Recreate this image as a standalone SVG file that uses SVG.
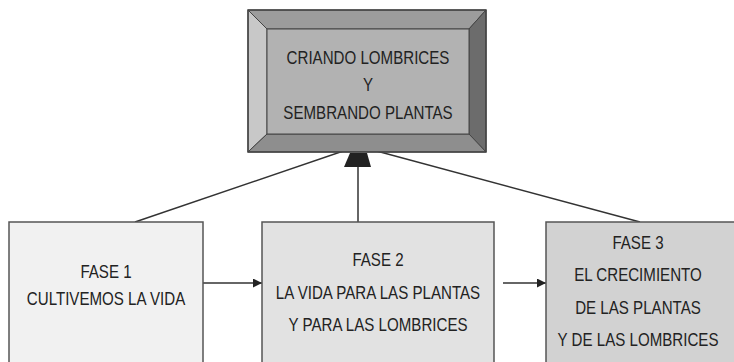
<svg xmlns="http://www.w3.org/2000/svg" width="734" height="362" viewBox="0 0 734 362">
<style>
.t{font-family:"Liberation Sans",Arial,sans-serif;font-size:18px;fill:#222;text-anchor:middle}
.box{stroke:#555;stroke-width:1.5}
.ln{stroke:#333;stroke-width:1.5;fill:none}
.bv{stroke:#444;stroke-width:1}
</style>
<defs>
<marker id="ah" viewBox="0 0 10 10" refX="10" refY="5" markerWidth="10" markerHeight="9" markerUnits="userSpaceOnUse" orient="auto">
<path d="M0,0 L10,5 L0,10 Z" fill="#222"/>
</marker>
</defs>
<rect width="734" height="362" fill="#fff"/>
<g id="connectors">
<line class="ln" x1="135" y1="222" x2="358" y2="146"/>
<line class="ln" x1="640" y1="222" x2="358" y2="146"/>
<line class="ln" x1="358" y1="222" x2="358" y2="160"/>
<polygon points="350,153 367,153 371,167 344,167" fill="#222"/>
<line class="ln" x1="203" y1="283" x2="262" y2="283" marker-end="url(#ah)"/>
<line class="ln" x1="503" y1="283" x2="546" y2="283" marker-end="url(#ah)"/>
</g>
<g id="goal">
<polygon class="bv" points="248,10 486,10 469,29 267,29" fill="#9c9c9c"/>
<polygon class="bv" points="248,10 267,29 267,134 248,152" fill="#c8c8c8"/>
<polygon class="bv" points="486,10 486,152 469,134 469,29" fill="#6c6c6c"/>
<polygon class="bv" points="248,152 267,134 469,134 486,152" fill="#8e8e8e"/>
<rect x="267" y="29" width="202" height="105" fill="#b2b2b2" stroke="#444" stroke-width="1"/>
<rect x="248" y="10" width="238" height="142" fill="none" stroke="#444" stroke-width="1.5"/>
<text class="t" transform="translate(368,64) scale(0.84,1)">CRIANDO LOMBRICES</text>
<text class="t" transform="translate(368,91) scale(0.84,1)">Y</text>
<text class="t" transform="translate(368,119) scale(0.84,1)">SEMBRANDO PLANTAS</text>
</g>
<g id="fase1">
<rect class="box" x="9" y="222" width="194" height="150" fill="#f1f1f1"/>
<text class="t" transform="translate(106,278) scale(0.84,1)">FASE 1</text>
<text class="t" transform="translate(106,305) scale(0.84,1)">CULTIVEMOS LA VIDA</text>
</g>
<g id="fase2">
<rect class="box" x="262" y="222" width="232" height="150" fill="#e2e2e2"/>
<text class="t" transform="translate(378,266) scale(0.84,1)">FASE 2</text>
<text class="t" transform="translate(378,299) scale(0.84,1)">LA VIDA PARA LAS PLANTAS</text>
<text class="t" transform="translate(378,331) scale(0.84,1)">Y PARA LAS LOMBRICES</text>
</g>
<g id="fase3">
<rect class="box" x="546" y="222" width="200" height="150" fill="#d2d2d2"/>
<text class="t" transform="translate(638,249) scale(0.84,1)">FASE 3</text>
<text class="t" transform="translate(638,281) scale(0.84,1)">EL CRECIMIENTO</text>
<text class="t" transform="translate(638,314) scale(0.84,1)">DE LAS PLANTAS</text>
<text class="t" transform="translate(638,346) scale(0.84,1)">Y DE LAS LOMBRICES</text>
</g>
</svg>
